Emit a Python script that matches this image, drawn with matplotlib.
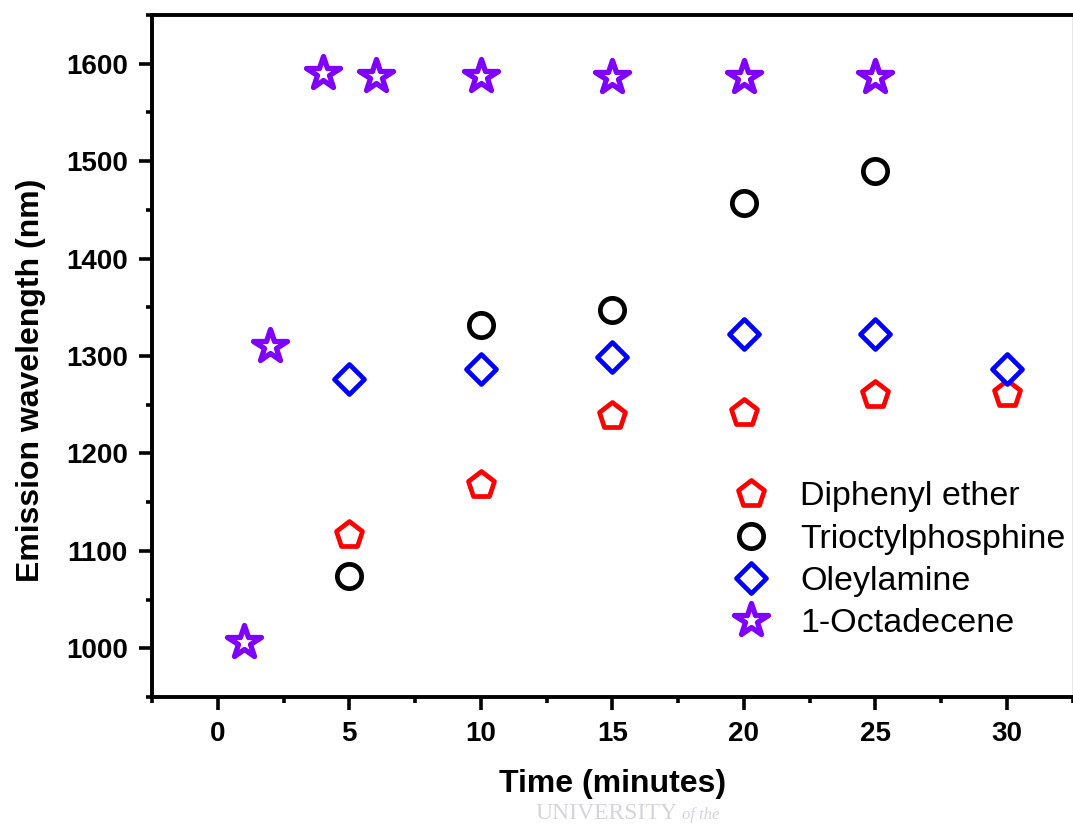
"""
Emission wavelength vs reaction time for different solvents.
"""
import matplotlib
matplotlib.use("Agg")
import matplotlib.pyplot as plt
from matplotlib.markers import MarkerStyle
from matplotlib.ticker import MultipleLocator

plt.rcParams['font.family'] = ['Liberation Sans', 'DejaVu Sans']

# data
diphenyl_t = [5, 10, 15, 20, 25, 30]
diphenyl_nm = [1116, 1168, 1238, 1242, 1260, 1261]

topo_t = [5, 10, 15, 20, 25]
topo_nm = [1074, 1332, 1347, 1457, 1490]

oleyl_t = [5, 10, 15, 20, 25, 30]
oleyl_nm = [1276, 1287, 1299, 1323, 1323, 1287]

ode_t = [1, 2, 4, 6, 10, 15, 20, 25]
ode_nm = [1007, 1310, 1590, 1587, 1587, 1586, 1586, 1586]

x_ticks = [0, 5, 10, 15, 20, 25, 30]
y_ticks = [1000, 1100, 1200, 1300, 1400, 1500, 1600]

fig = plt.figure(figsize=(10.73, 8.26), dpi=100)
ax = fig.add_axes([0.1417, 0.156, 0.858, 0.826])

pent = MarkerStyle('p', joinstyle='round')
star = MarkerStyle('*', joinstyle='round')
diam = MarkerStyle('D', joinstyle='round')

ax.plot(diphenyl_t, diphenyl_nm, linestyle='none', marker=pent, ms=19.5,
        mfc='white', mec='#ff0000', mew=3.4, label='Diphenyl ether')
ax.plot(topo_t, topo_nm, linestyle='none', marker='o', ms=17.5,
        mfc='white', mec='black', mew=3.4, label='Trioctylphosphine')
ax.plot(oleyl_t, oleyl_nm, linestyle='none', marker=diam, ms=15,
        mfc='white', mec='#0000ff', mew=3.4, label='Oleylamine')
ax.plot(ode_t, ode_nm, linestyle='none', marker=star, ms=25,
        mfc='white', mec='#7f00ff', mew=3.8, label='1-Octadecene')

ax.set_xlim(-2.5, 32.5)
ax.set_ylim(950, 1650)
ax.set_xticks(x_ticks)
ax.set_yticks(y_ticks)
ax.xaxis.set_minor_locator(MultipleLocator(2.5))
ax.yaxis.set_minor_locator(MultipleLocator(50))

ax.tick_params(which='major', direction='out', length=9.5, width=2.6,
               labelsize=20, pad=8)
ax.tick_params(which='minor', direction='out', length=4.5, width=2.6)
ax.tick_params(top=False, right=False, which='both')
for lab in ax.get_xticklabels() + ax.get_yticklabels():
    lab.set_fontweight('bold')

for side in ['left', 'bottom', 'top']:
    ax.spines[side].set_linewidth(2.8)
ax.spines['right'].set_linewidth(1.0)
ax.spines['right'].set_color('#888888')

ax.set_xlabel('Time (minutes)', fontsize=23, fontweight='bold')
ax.set_ylabel('Emission wavelength (nm)', fontsize=23, fontweight='bold')
ax.xaxis.set_label_coords(0.5, -0.106)
ax.yaxis.set_label_coords(-0.115, 0.465)

ax.legend(loc='lower right', bbox_to_anchor=(1.0, 0.075), frameon=False,
          fontsize=24.5, handletextpad=0.45, labelspacing=0.33,
          borderaxespad=0.0, borderpad=0.2)

# faint watermark text from the scanned thesis page
fig.text(0.565, 0.008, 'UNIVERSITY', fontsize=17, family='Liberation Serif',
         color='#d4d4de', ha='center', va='baseline', zorder=0)
fig.text(0.636, 0.008, 'of the', fontsize=12, family='Liberation Serif',
         style='italic', color='#d4d4de', ha='left', va='baseline', zorder=0)

fig.savefig('out.png', dpi=100)
